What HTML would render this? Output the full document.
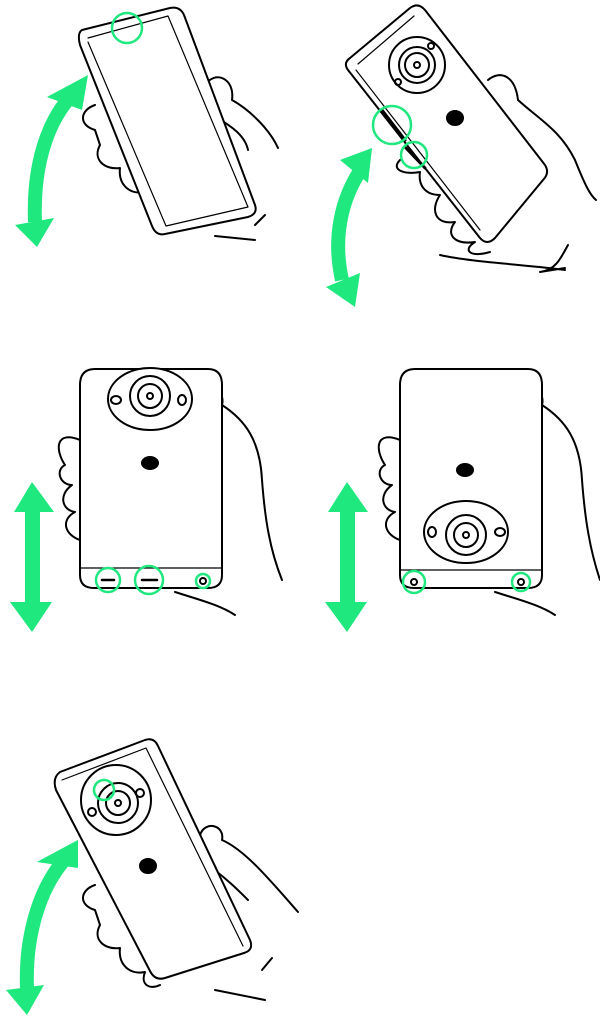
<!DOCTYPE html>
<html><head><meta charset="utf-8"><style>html,body{margin:0;padding:0;background:#fff}svg{display:block}</style></head>
<body>
<svg width="600" height="1019" viewBox="0 0 600 1019" xmlns="http://www.w3.org/2000/svg">
<g fill="none" stroke="#000" stroke-width="2" stroke-linejoin="round" stroke-linecap="round">
<!-- Panel 1 -->
<path d="M205 85 C215 70 235 78 232 100 C250 110 270 130 278 148 M212 115 C230 125 245 135 248 150" />
<path d="M95 105 C80 110 78 125 95 130 L100 145 C92 160 105 170 120 168 C118 185 130 195 145 192 C140 205 150 210 160 205" />
<path d="M82 30 L170 8 Q180 6 184 15 L255 205 Q258 214 248 217 L165 234 Q156 236 152 226 L80 45 Q77 33 82 30 Z" fill="#fff"/>
<path d="M88 38 L168 16 L248 207 L166 226 L88 42" stroke-width="1.2"/>
<path d="M215 236 L255 240 M255 225 L265 215"/>
<!-- Panel 2 -->
<path d="M488 80 C500 70 515 75 518 100 C540 120 560 130 575 160 C585 185 590 195 596 200 M568 245 C560 260 555 270 540 272 L565 268 M440 255 C470 262 530 265 565 270"/>
<path d="M400 160 C390 170 405 175 420 172 C418 185 425 195 440 195 C430 210 435 225 455 222 C445 235 455 245 475 242 C462 250 470 258 490 252"/>
<path d="M350 58 L410 8 Q418 2 425 10 L545 165 Q550 173 543 180 L495 238 Q487 246 480 238 L348 70 Q343 63 350 58 Z" fill="#fff"/>
<path d="M358 64 L414 16 M356 70 L480 230" stroke-width="1.2"/>
<circle cx="417" cy="65" r="28" fill="#fff"/><circle cx="417" cy="65" r="18"/><circle cx="417" cy="65" r="12"/><circle cx="417" cy="65" r="3"/>
<circle cx="398" cy="82" r="3"/><circle cx="431" cy="46" r="3"/>
<ellipse cx="455" cy="118" rx="8" ry="7" fill="#000"/>
<path d="M382 110 L405 140 M406 148 L425 168" stroke-width="3"/>
<!-- Panel 3 -->
<path d="M205 385 C215 380 225 395 222 405 C245 420 260 440 262 480 C265 520 270 550 282 580 M175 592 C200 600 220 605 235 615"/>
<path d="M80 440 C55 430 55 450 65 465 C55 470 60 485 72 485 C58 495 62 510 75 512 C60 520 65 535 80 540" fill="#fff"/>
<path d="M95 369 L208 369 Q222 369 222 385 L222 575 Q222 588 208 588 L94 588 Q80 588 80 575 L80 385 Q80 369 95 369 Z" fill="#fff"/>
<path d="M80 568 L222 568" stroke-width="1.2"/>
<ellipse cx="150" cy="399" rx="42" ry="31" fill="#fff"/><circle cx="150" cy="396" r="20"/><circle cx="150" cy="396" r="12"/><circle cx="150" cy="396" r="3"/>
<ellipse cx="116" cy="400" rx="5" ry="4"/><ellipse cx="182" cy="400" rx="4" ry="5"/>
<ellipse cx="150" cy="463" rx="8" ry="6" fill="#000"/>
<path d="M102 580 L114 580 M142 580 L157 580" stroke-width="2.5"/><circle cx="203" cy="581" r="3"/>
<!-- Panel 4 -->
<path d="M525 385 C535 380 545 395 542 405 C565 420 580 440 582 480 C585 520 590 550 600 580 M495 592 C520 600 540 605 555 615"/>
<path d="M400 440 C375 430 375 450 385 465 C375 470 380 485 392 485 C378 495 382 510 395 512 C380 520 385 535 400 540" fill="#fff"/>
<path d="M415 369 L528 369 Q542 369 542 385 L542 575 Q542 588 528 588 L414 588 Q400 588 400 575 L400 385 Q400 369 415 369 Z" fill="#fff"/>
<path d="M400 570 L542 570" stroke-width="1.2"/>
<ellipse cx="466" cy="532" rx="42" ry="31" fill="#fff"/><circle cx="466" cy="535" r="20"/><circle cx="466" cy="535" r="12"/><circle cx="466" cy="535" r="3"/>
<ellipse cx="432" cy="532" rx="4" ry="5"/><ellipse cx="500" cy="532" rx="5" ry="4"/>
<ellipse cx="465" cy="470" rx="8" ry="6" fill="#000"/>
<circle cx="414" cy="582" r="3"/><circle cx="521" cy="582" r="3"/>
<!-- Panel 5 -->
<path d="M200 835 C205 820 225 825 222 840 C245 850 270 880 298 912 M212 868 C228 880 238 890 248 900 M215 990 L265 1000 M262 970 L272 958"/>
<path d="M95 885 C80 890 78 905 95 910 L100 925 C92 940 105 950 120 948 C118 965 130 975 145 972 C140 985 150 990 160 985"/>
<path d="M60 772 L145 740 Q154 737 158 746 L250 940 Q254 950 244 953 L165 978 Q155 981 150 971 L56 790 Q52 778 60 772 Z" fill="#fff"/>
<path d="M62 780 L146 748 L243 946" stroke-width="1.2"/>
<circle cx="116" cy="800" r="35" fill="#fff"/><circle cx="118" cy="803" r="20"/><circle cx="118" cy="803" r="12"/><circle cx="118" cy="803" r="3"/>
<circle cx="92" cy="812" r="4"/><circle cx="140" cy="793" r="4"/>
<ellipse cx="148" cy="866" rx="8" ry="7" fill="#000"/>
</g>
<!-- green circles -->
<g fill="none" stroke="#1fe87f" stroke-width="2.5">
<circle cx="127" cy="28" r="15"/>
<circle cx="392" cy="125" r="19"/><circle cx="414" cy="155" r="13"/>
<circle cx="108" cy="580" r="12"/><circle cx="149" cy="580" r="14"/><circle cx="203" cy="581" r="7"/>
<circle cx="414" cy="582" r="11"/><circle cx="521" cy="582" r="9"/>
<circle cx="104" cy="790" r="10"/>
</g>
<!-- arrows -->
<g fill="#1fe87f">
<path d="M77 90 C45 120 33 170 35 222" fill="none" stroke="#1fe87f" stroke-width="14"/>
<polygon points="88,75 47,97 82,110"/>
<polygon points="37,247 15,225 54,218"/>
<path d="M362 168 C340 200 333 240 342 280" fill="none" stroke="#1fe87f" stroke-width="14"/>
<polygon points="372,148 340,160 368,183"/>
<polygon points="355,307 326,287 360,273"/>
<rect x="25" y="505" width="15" height="104"/>
<polygon points="32,482 14,512 54,512"/><polygon points="32,632 10,602 52,602"/>
<rect x="340" y="505" width="15" height="104"/>
<polygon points="347,482 328,512 368,512"/><polygon points="347,632 325,602 367,602"/>
<path d="M68 856 C40 885 25 935 27 988" fill="none" stroke="#1fe87f" stroke-width="14"/>
<polygon points="78,840 37,862 78,855"/>
<polygon points="78,840 37,862 78,868"/>
<polygon points="27,1015 6,990 44,985"/>
</g>
</svg>
</body></html>
